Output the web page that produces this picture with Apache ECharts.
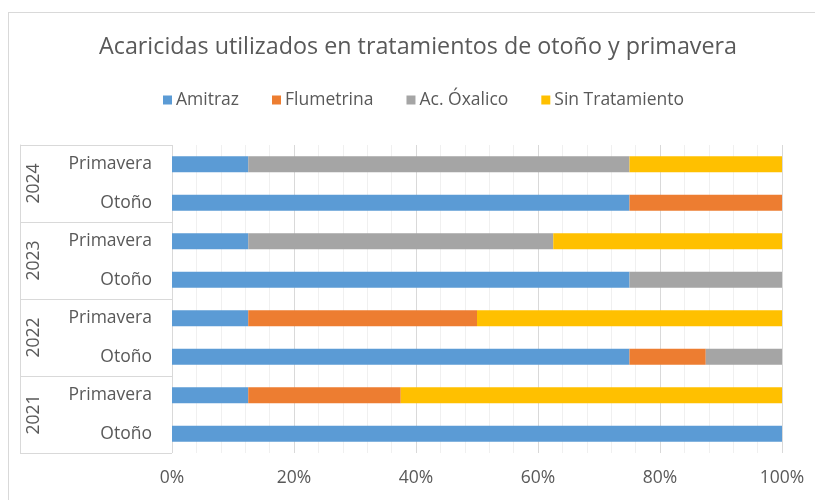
<!DOCTYPE html>
<html>
<head>
<meta charset="utf-8">
<script src="https://cdn.jsdelivr.net/npm/echarts@6/dist/echarts.min.js"></script>
<style>
  html, body { margin: 0; padding: 0; background: #fff; }
  #frame { position: absolute; left: 8px; top: 12px; width: 820px; height: 500px; border: 1px solid #d9d9d9; box-sizing: border-box; }
  #chart { position: absolute; left: 0; top: 0; width: 815px; height: 500px; }
</style>
</head>
<body>
<div id="frame"></div>
<div id="chart"></div>
<script>
// Rows listed top to bottom: season within year
const seasons = ['Primavera', 'Otoño', 'Primavera', 'Otoño', 'Primavera', 'Otoño', 'Primavera', 'Otoño'];
const years = ['2024', '2023', '2022', '2021'];
const xTicks = [0, 20, 40, 60, 80, 100];

// Share of hives (%) per treatment
const amitraz        = [12.5, 75, 12.5, 75, 12.5, 75,   12.5, 100];
const flumetrina     = [0,    25, 0,    0,  37.5, 12.5, 25,   0];
const acOxalico      = [62.5, 0,  50,   25, 0,    12.5, 0,    0];
const sinTratamiento = [25,   0,  37.5, 0,  50,   0,    62.5, 0];

const seriesNames = ['Amitraz', 'Flumetrina', 'Ac. Óxalico', 'Sin Tratamiento'];
const seriesData = [amitraz, flumetrina, acOxalico, sinTratamiento];
const colors = ['#5b9bd5', '#ed7d31', '#a5a5a5', '#ffc000'];

const FONT = '"Open Sans", "DejaVu Sans", sans-serif';
const TEXT = '#595959';
const SMALL = 17.5;

const chart = echarts.init(document.getElementById('chart'), null, { renderer: 'canvas' });

chart.setOption({
  animation: false,
  color: colors,
  textStyle: { fontFamily: FONT },
  title: {
    text: 'Acaricidas utilizados en tratamientos de otoño y primavera',
    left: 94,
    top: 31,
    textStyle: { fontFamily: FONT, fontSize: 23.3, fontWeight: 'normal', color: TEXT }
  },
  legend: {
    top: 86,
    left: 158,
    itemWidth: 9,
    itemHeight: 9,
    itemGap: 33,
    icon: 'rect',
    textStyle: { fontFamily: FONT, fontSize: SMALL, color: TEXT, padding: [0, 0, 0, -1] },
    data: seriesNames
  },
  grid: { left: 172, right: 33, top: 145, bottom: 47, containLabel: false },
  xAxis: {
    type: 'value',
    min: xTicks[0],
    max: xTicks[xTicks.length - 1],
    interval: 20,
    axisLine: { show: false },
    axisTick: { show: false },
    axisLabel: { formatter: '{value}%', color: TEXT, fontSize: SMALL, fontFamily: FONT, margin: 16 },
    splitLine: { show: true, lineStyle: { color: '#d9d9d9', width: 1 } },
    minorTick: { show: false, splitNumber: 5 },
    minorSplitLine: { show: true, lineStyle: { color: '#f0f0f0', width: 1 } }
  },
  yAxis: [
    {
      type: 'category',
      inverse: true,
      data: seasons,
      axisLine: { show: false },
      axisTick: { show: false },
      axisLabel: { color: TEXT, fontSize: SMALL, fontFamily: FONT, margin: 20 }
    },
    {
      type: 'category',
      inverse: true,
      position: 'left',
      offset: 152,
      data: years,
      axisLine: { show: true, lineStyle: { color: '#d9d9d9' } },
      axisTick: { show: true, inside: true, length: 152, lineStyle: { color: '#d9d9d9' } },
      axisLabel: { inside: true, rotate: 90, color: TEXT, fontSize: SMALL, fontFamily: FONT, margin: 5 },
      splitLine: { show: false }
    }
  ],
  series: seriesNames.map((name, i) => ({
    name: name,
    type: 'bar',
    stack: 'total',
    yAxisIndex: 0,
    barWidth: 16,
    data: seriesData[i]
  }))
});
</script>
</body>
</html>
